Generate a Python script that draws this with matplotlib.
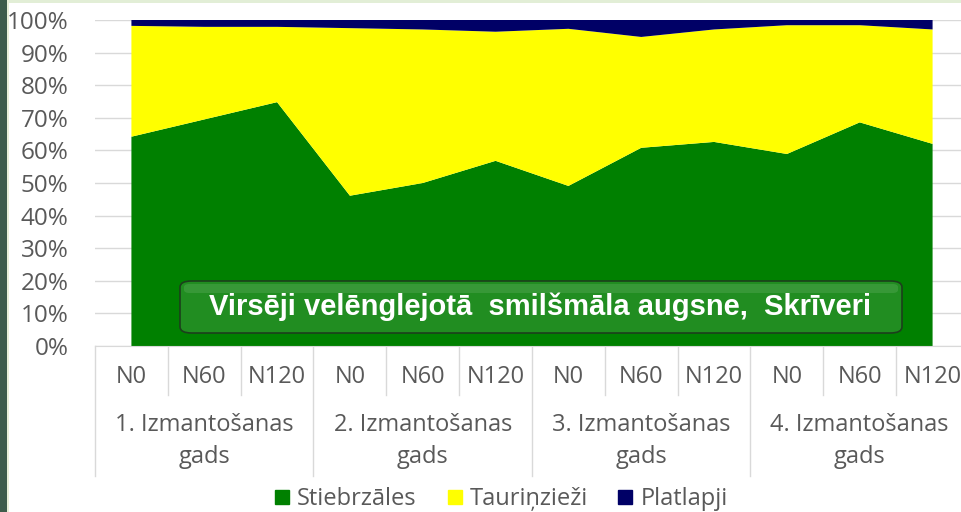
import matplotlib
matplotlib.use("Agg")
import matplotlib.pyplot as plt
import numpy as np
from matplotlib.patches import FancyBboxPatch, Rectangle
from matplotlib.lines import Line2D

# ---- data ----
doses = ["N0", "N60", "N120"] * 4
groups = ["1. Izmantošanas", "2. Izmantošanas", "3. Izmantošanas", "4. Izmantošanas"]
group_line2 = "gads"
series_names = ["Stiebrzāles", "Tauriņzieži", "Platlapji"]
stiebrzales = [64.2, 69.5, 74.8, 46.1, 50.0, 56.8, 49.1, 60.8, 62.6, 58.9, 68.6, 62.0]
taurinziezi = [34.0, 28.4, 23.1, 51.4, 47.1, 39.6, 48.2, 34.0, 34.5, 39.5, 29.8, 35.1]
platlapji = [1.8, 2.1, 2.1, 2.5, 2.9, 3.6, 2.7, 5.2, 2.9, 1.6, 1.6, 2.9]
yticks = [0, 10, 20, 30, 40, 50, 60, 70, 80, 90, 100]
title_text = "Virsēji velēnglejotā  smilšmāla augsne,  Skrīveri"

colors = ["#008000", "#FFFF00", "#000066"]
grey = "#595959"
FONT = ["Open Sans", "DejaVu Sans"]
FS = 17

W, H = 961, 512
fig = plt.figure(figsize=(W / 100, H / 100), dpi=100)
fig.patch.set_facecolor("white")

# slide background strips
fig.patches.append(Rectangle((0, 1 - 3 / H), 1, 3 / H, transform=fig.transFigure,
                             facecolor="#e2eed6", edgecolor="none", zorder=0))
fig.patches.append(Rectangle((0, 0), 7 / W, 1, transform=fig.transFigure,
                             facecolor="#3d5c4b", edgecolor="none", zorder=0))
fig.patches.append(Rectangle((7 / W, 0), 1.5 / W, 1, transform=fig.transFigure,
                             facecolor="#e8f0d8", edgecolor="none", zorder=0))

# axes geometry in pixels
x0, x1 = 95, 969
ytop, ybot = 20, 346
ax = fig.add_axes([x0 / W, (H - ybot) / H, (x1 - x0) / W, (ybot - ytop) / H])

x = np.arange(len(doses))
data = np.vstack([stiebrzales, taurinziezi, platlapji])
ax.stackplot(x, data, colors=colors, labels=series_names, zorder=2, linewidth=0)

ax.set_xlim(-0.5, len(doses) - 0.5)
ax.set_ylim(0, 100)
ax.set_yticks(yticks)
ax.set_yticklabels([f"{v}%" for v in yticks], fontsize=FS + 0.5, color=grey, family=FONT)
ax.tick_params(axis="y", length=0, pad=19)
ax.tick_params(axis="x", length=0, labelbottom=False)
ax.grid(axis="y", color="#d9d9d9", linewidth=1, zorder=0)
ax.set_axisbelow(True)
for s in ["top", "right", "left"]:
    ax.spines[s].set_visible(False)
ax.spines["bottom"].set_color("#d9d9d9")
ax.spines["bottom"].set_zorder(3)

ph = ybot - ytop
def ay(py):
    return (ybot - py) / ph

xt = ax.get_xaxis_transform()
# category separators
for k in range(len(doses) + 1):
    yend = 476 if k % 3 == 0 else 395
    ax.plot([k - 0.5, k - 0.5], [0, ay(yend)], transform=xt, color="#d9d9d9",
            linewidth=1, clip_on=False, zorder=1)

for i, d in enumerate(doses):
    ax.text(i, ay(377), d, transform=xt, ha="center", va="center",
            fontsize=FS, color=grey, family=FONT, clip_on=False)
for g, name in enumerate(groups):
    ax.text(3 * g + 1, ay(425), name, transform=xt, ha="center", va="center",
            fontsize=FS, color=grey, family=FONT, clip_on=False)
    ax.text(3 * g + 1, ay(457), group_line2, transform=xt, ha="center", va="center",
            fontsize=FS, color=grey, family=FONT, clip_on=False)

# title box
bx0, bx1, by0, by1 = 180, 902, 281, 333
box = FancyBboxPatch((bx0 / W, (H - by1) / H), (bx1 - bx0) / W, (by1 - by0) / H,
                     boxstyle="round,pad=0,rounding_size=0.012",
                     transform=fig.transFigure, facecolor="#218d21",
                     edgecolor="#1c3f1c", linewidth=1.2, zorder=5)
fig.patches.append(box)
hl = FancyBboxPatch(((bx0 + 4) / W, (H - by0 - 12) / H), (bx1 - bx0 - 8) / W, 9 / H,
                    boxstyle="round,pad=0,rounding_size=0.006",
                    transform=fig.transFigure, facecolor="white", alpha=0.10,
                    edgecolor="none", zorder=6)
fig.patches.append(hl)
fig.text(540 / W, (H - 307) / H, title_text, ha="center", va="center",
         fontsize=21, fontweight="bold", color="white",
         family=["Liberation Sans", "DejaVu Sans"], zorder=7)

# legend
handles = [Line2D([], [], marker="s", linestyle="none", markersize=9.4,
                  markerfacecolor=c, markeredgecolor=c) for c in colors]
leg = fig.legend(handles, series_names, loc="center", bbox_to_anchor=(499 / W, 13 / H),
                 ncol=3, frameon=False, handletextpad=0.13, columnspacing=1.1,
                 handlelength=1.0, borderpad=0, prop={"family": FONT, "size": FS})
for t in leg.get_texts():
    t.set_color(grey)

fig.savefig("out.png", dpi=100)
